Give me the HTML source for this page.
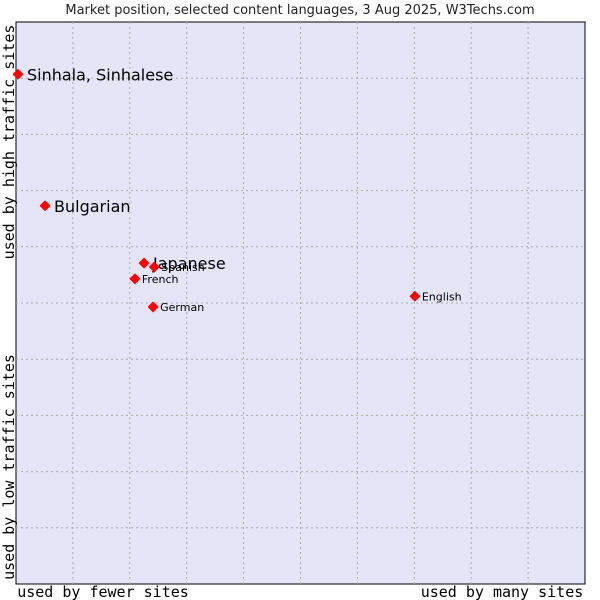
<!DOCTYPE html>
<html><head><meta charset="utf-8"><style>
body{margin:0;background:#fff;width:600px;height:600px;overflow:hidden}
svg{display:block;font-family:"DejaVu Sans","Liberation Sans",sans-serif}
</style></head><body>
<svg id="chart" width="600" height="600">
<text x="300" y="14" text-anchor="middle" font-size="13" fill="#222">Market position, selected content languages, 3 Aug 2025, W3Techs.com</text>
<rect x="16" y="22" width="569" height="562" fill="#e4e6f8" stroke="#000" stroke-width="1"/>
<g id="grid"></g>
<g id="points"></g>
<text x="103" y="597" text-anchor="middle" font-family="DejaVu Sans Mono, Liberation Mono, monospace" font-size="15" fill="#000">used by fewer sites</text>
<text x="502" y="597" text-anchor="middle" font-family="DejaVu Sans Mono, Liberation Mono, monospace" font-size="15" fill="#000">used by many sites</text>
<text transform="translate(14,142) rotate(-90)" text-anchor="middle" font-family="DejaVu Sans Mono, Liberation Mono, monospace" font-size="15" fill="#000">used by high traffic sites</text>
<text transform="translate(14,467) rotate(-90)" text-anchor="middle" font-family="DejaVu Sans Mono, Liberation Mono, monospace" font-size="15" fill="#000">used by low traffic sites</text>
</svg>
<script>
const languages = ["Sinhala, Sinhalese","Bulgarian","Japanese","Spanish","French","German","English"];
const siteShare = [0.35,5.1,22.5,24.3,20.9,24.1,70.1];
const trafficScore = [90.7,67.3,57.1,56.4,54.3,49.3,51.2];
const highlighted = [true,true,true,false,false,false,false];

const NS="http://www.w3.org/2000/svg";
const L=16,T=22,W=569,H=562;
const xs=v=>L+v/100*W, ys=v=>T+H-v/100*H;
const grid=document.getElementById('grid');
for(let i=1;i<10;i++){
  const v=document.createElementNS(NS,'line');
  v.setAttribute('x1',xs(i*10));v.setAttribute('x2',xs(i*10));v.setAttribute('y1',T);v.setAttribute('y2',T+H);
  v.setAttribute('stroke','#aaa');v.setAttribute('stroke-dasharray','2,3');
  
  
  grid.appendChild(v);
  const h=document.createElementNS(NS,'line');
  h.setAttribute('y1',ys(i*10));h.setAttribute('y2',ys(i*10));h.setAttribute('x1',L);h.setAttribute('x2',L+W);
  h.setAttribute('stroke','#aaa');h.setAttribute('stroke-dasharray','2,3');
  
  
  grid.appendChild(h);
}
const pts=document.getElementById('points');
languages.forEach((n,i)=>{
  const cx=xs(siteShare[i]),cy=ys(trafficScore[i]);
  const c=document.createElementNS(NS,'path');
  c.setAttribute('d',`M${cx},${cy-4.5}L${cx+4.5},${cy}L${cx},${cy+4.5}L${cx-4.5},${cy}Z`);
  c.setAttribute('fill','#f00');c.setAttribute('stroke','#f00');c.setAttribute('stroke-width','1.5');c.setAttribute('stroke-linejoin','round');
  
  
  pts.appendChild(c);
  const t=document.createElementNS(NS,'text');
  const big=highlighted[i];
  t.setAttribute('x',cx+(big?9:7));t.setAttribute('y',cy+(big?6:4));
  t.setAttribute('font-size',big?16:11);t.setAttribute('fill','#000');
  t.textContent=n;
  
  
  pts.appendChild(t);
});
</script>
</body></html>
